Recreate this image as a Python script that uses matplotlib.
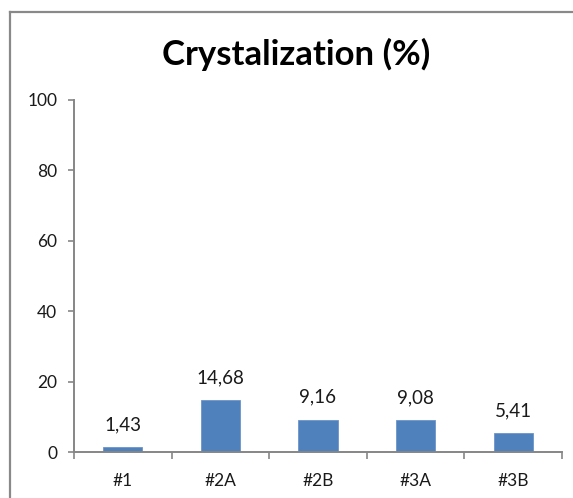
import matplotlib
matplotlib.use("Agg")
import matplotlib.pyplot as plt

# Sample labels and crystallization percentages
categories = ["#1", "#2A", "#2B", "#3A", "#3B"]
values = [1.43, 14.68, 9.16, 9.08, 5.41]
y_ticks = [0, 20, 40, 60, 80, 100]

plt.rcParams["font.family"] = ["Lato", "DejaVu Sans"]

W, H = 573, 498
fig = plt.figure(figsize=(W / 100, H / 100), dpi=100)
fig.patch.set_facecolor("white")

# Chart frame (left and top edges visible)
frame_color = "#898989"
fig.add_artist(plt.Line2D([10 / W, 10 / W], [0, 1 - 12 / H], color=frame_color,
                          lw=1.6, transform=fig.transFigure))
fig.add_artist(plt.Line2D([10 / W, 1], [1 - 12 / H, 1 - 12 / H], color=frame_color,
                          lw=1.6, transform=fig.transFigure))

ax = fig.add_axes([74 / W, (H - 452) / H, 488 / W, 352 / H])
x = list(range(len(categories)))
ax.bar(x, values, width=0.4, color="#4F81BD", edgecolor="#6B95C8", linewidth=0.6, zorder=2)

for xi, v in zip(x, values):
    ax.annotate(f"{v:.2f}".replace(".", ","), (xi, v), xytext=(0, 10),
                textcoords="offset points", ha="center", va="bottom",
                fontsize=13.5, color="#1a1a1a")

ax.set_xlim(-0.5, len(categories) - 0.5)
ax.set_ylim(0, 100)
ax.set_yticks(y_ticks)
ax.set_yticklabels([str(t) for t in y_ticks])
ax.set_xticks(x)
ax.set_xticklabels(categories)
ax.set_xticks([i - 0.5 for i in range(len(categories) + 1)], minor=True)

axis_color = "#868686"
for side in ["top", "right"]:
    ax.spines[side].set_visible(False)
for side in ["left", "bottom"]:
    ax.spines[side].set_color(axis_color)
    ax.spines[side].set_linewidth(1.4)

ax.tick_params(axis="y", direction="out", length=4, width=1.2, color=axis_color,
               labelsize=12.5, pad=8, labelcolor="#1a1a1a")
ax.tick_params(axis="x", which="major", length=0, labelsize=12.5, pad=15, labelcolor="#1a1a1a")
ax.tick_params(axis="x", which="minor", direction="out", length=5, width=1.2, color=axis_color)

fig.text(296 / W, 1 - 54 / H, "Crystalization (%)", ha="center", va="center",
         fontsize=25, fontweight="bold", color="black")

fig.savefig("out.png", dpi=100)
